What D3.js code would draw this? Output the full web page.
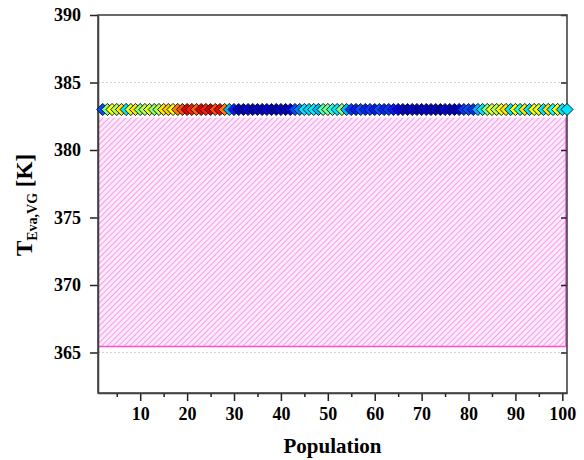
<!DOCTYPE html>
<html>
<head>
<meta charset="utf-8">
<script src="https://cdn.jsdelivr.net/npm/d3@7"></script>
<style>
  body { margin: 0; background: #fff; }
  svg { display: block; font-family: "Liberation Serif", "Times New Roman", serif; }
</style>
</head>
<body>
<div id="chart"></div>
<script>
// population index of every point
const population = [
  2, 3, 4, 5, 6, 7, 8, 9, 10, 11,
  12, 13, 14, 15, 16, 17, 18, 19, 20, 21,
  22, 23, 24, 25, 26, 27, 28, 29, 30, 31,
  32, 33, 34, 35, 36, 37, 38, 39, 40, 41,
  42, 43, 44, 45, 46, 47, 48, 49, 50, 51,
  52, 53, 54, 55, 56, 57, 58, 59, 60, 61,
  62, 63, 64, 65, 66, 67, 68, 69, 70, 71,
  72, 73, 74, 75, 76, 77, 78, 79, 80, 81,
  82, 83, 84, 85, 86, 87, 88, 89, 90, 91,
  92, 93, 94, 95, 96, 97, 98, 99, 100, 101
];

// evaporation temperature, K
const tEva = [
  383, 383, 383, 383, 383, 383, 383, 383, 383, 383,
  383, 383, 383, 383, 383, 383, 383, 383, 383, 383,
  383, 383, 383, 383, 383, 383, 383, 383, 383, 383,
  383, 383, 383, 383, 383, 383, 383, 383, 383, 383,
  383, 383, 383, 383, 383, 383, 383, 383, 383, 383,
  383, 383, 383, 383, 383, 383, 383, 383, 383, 383,
  383, 383, 383, 383, 383, 383, 383, 383, 383, 383,
  383, 383, 383, 383, 383, 383, 383, 383, 383, 383,
  383, 383, 383, 383, 383, 383, 383, 383, 383, 383,
  383, 383, 383, 383, 383, 383, 383, 383, 383, 383
];

// colour level of each marker (0 = dark blue, 1 = dark red)
const level = [
  0.2, 0.5, 0.62, 0.55, 0.65, 0.35, 0.6, 0.65, 0.5, 0.55,
  0.6, 0.5, 0.55, 0.65, 0.68, 0.62, 0.75, 0.8, 0.9, 0.85,
  0.78, 0.9, 0.85, 0.92, 0.8, 0.88, 0.75, 0.3, 0.15, 0.08,
  0.06, 0.1, 0.05, 0.08, 0.06, 0.1, 0.07, 0.05, 0.09, 0.06,
  0.1, 0.2, 0.25, 0.35, 0.33, 0.36, 0.3, 0.45, 0.5, 0.4,
  0.35, 0.5, 0.3, 0.18, 0.15, 0.2, 0.16, 0.18, 0.15, 0.2,
  0.16, 0.18, 0.15, 0.12, 0.08, 0.06, 0.1, 0.05, 0.07, 0.09,
  0.06, 0.08, 0.05, 0.1, 0.07, 0.06, 0.08, 0.18, 0.2, 0.17,
  0.3, 0.35, 0.5, 0.6, 0.55, 0.62, 0.65, 0.35, 0.62, 0.4,
  0.65, 0.35, 0.62, 0.6, 0.35, 0.65, 0.38, 0.62, 0.35, 0.35
];

// feasible band of T_Eva,VG
const bandLow = 365.45;
const bandHigh = 382.4;

const xTicks = [10, 20, 30, 40, 50, 60, 70, 80, 90, 100];
const xMinorTicks = [5, 15, 25, 35, 45, 55, 65, 75, 85, 95];
const yTicks = [365, 370, 375, 380, 385, 390];

const width = 584, height = 460;
const margin = { top: 15, right: 17, bottom: 67, left: 98 };
const innerW = width - margin.left - margin.right;
const innerH = height - margin.top - margin.bottom;

const svg = d3.select("#chart").append("svg")
  .attr("width", width)
  .attr("height", height);

const defs = svg.append("defs");
const hatch = defs.append("pattern")
  .attr("id", "hatch")
  .attr("patternUnits", "userSpaceOnUse")
  .attr("width", 4)
  .attr("height", 4)
  .attr("patternTransform", "rotate(45)");
hatch.append("rect").attr("width", 4).attr("height", 4).attr("fill", "#feeafc");
hatch.append("line")
  .attr("x1", 0).attr("y1", 0).attr("x2", 0).attr("y2", 4)
  .attr("stroke", "#f394e8")
  .attr("stroke-width", 1.8);

const g = svg.append("g")
  .attr("transform", `translate(${margin.left},${margin.top})`);

const x = d3.scaleLinear().domain([1, 101]).range([0, innerW]);
const y = d3.scaleLinear().domain([362, 390]).range([innerH, 0]);

const jet = d3.scaleLinear()
  .domain([0, 0.125, 0.375, 0.625, 0.875, 1])
  .range(["#00007f", "#0000ff", "#00ffff", "#ffff00", "#ff0000", "#7f0000"]);

// dotted grid
g.append("g")
  .selectAll("line")
  .data(yTicks.filter(d => d < 390))
  .join("line")
  .attr("x1", 0).attr("x2", innerW)
  .attr("y1", d => y(d)).attr("y2", d => y(d))
  .attr("stroke", "#d2d2d2")
  .attr("stroke-dasharray", "2,2");

// hatched band
g.append("rect")
  .attr("x", x(1))
  .attr("y", y(bandHigh))
  .attr("width", x(101) - x(1))
  .attr("height", y(bandLow) - y(bandHigh))
  .attr("fill", "url(#hatch)");
g.append("line")
  .attr("x1", x(1)).attr("x2", x(101) - 1)
  .attr("y1", y(bandLow)).attr("y2", y(bandLow))
  .attr("stroke", "#ff4fcf").attr("stroke-width", 1.5);
g.append("line")
  .attr("x1", x(101) - 1).attr("x2", x(101) - 1)
  .attr("y1", y(bandHigh)).attr("y2", y(bandLow))
  .attr("stroke", "#ff4fcf").attr("stroke-width", 1.5);

// axes
g.append("g")
  .attr("transform", `translate(0,${innerH})`)
  .call(d3.axisBottom(x).tickValues(xTicks).tickSize(8).tickPadding(6).tickSizeOuter(0));
g.append("g")
  .attr("transform", `translate(0,${innerH})`)
  .call(d3.axisBottom(x).tickValues(xMinorTicks).tickSize(4).tickFormat("").tickSizeOuter(0))
  .select(".domain").remove();
g.append("g")
  .call(d3.axisLeft(y).tickValues(yTicks).tickSize(8).tickPadding(9).tickSizeOuter(0));
g.append("g")
  .attr("transform", `translate(${innerW},0)`)
  .call(d3.axisLeft(y).tickValues(yTicks).tickSize(6).tickFormat("").tickSizeOuter(0))
  .select(".domain").remove();

g.selectAll(".tick text")
  .attr("font-family", "Liberation Serif, serif")
  .attr("font-size", 18)
  .attr("font-weight", "bold")
  .attr("fill", "#000");
g.selectAll(".tick line").attr("stroke", "#222").attr("stroke-width", 1.5);
g.selectAll(".domain").attr("stroke", "#333").attr("stroke-width", 1.5);

// frame
g.append("rect")
  .attr("width", innerW).attr("height", innerH)
  .attr("fill", "none")
  .attr("stroke", "#444")
  .attr("stroke-width", 1.6);

// markers
const diamond = d3.symbol().type(d3.symbolSquare).size(74);
g.append("g")
  .selectAll("path")
  .data(population.map((p, i) => ({ p: p, t: tEva[i], c: level[i] })))
  .join("path")
  .attr("d", diamond)
  .attr("transform", d => `translate(${x(d.p)},${y(d.t)}) rotate(45)`)
  .attr("fill", d => jet(d.c))
  .attr("stroke", "#111")
  .attr("stroke-width", 0.9);

// labels
svg.append("text")
  .attr("x", margin.left + innerW / 2)
  .attr("y", 453)
  .attr("text-anchor", "middle")
  .attr("font-size", 21)
  .attr("font-weight", "bold")
  .text("Population");

const yl = svg.append("text")
  .attr("transform", `translate(32,205) rotate(-90)`)
  .attr("text-anchor", "middle")
  .attr("font-size", 23)
  .attr("font-weight", "bold");
yl.append("tspan").text("T");
yl.append("tspan").attr("font-size", 14).attr("dy", 5).text("Eva,VG");
yl.append("tspan").attr("dy", -5).text(" [K]");
</script>
</body>
</html>
